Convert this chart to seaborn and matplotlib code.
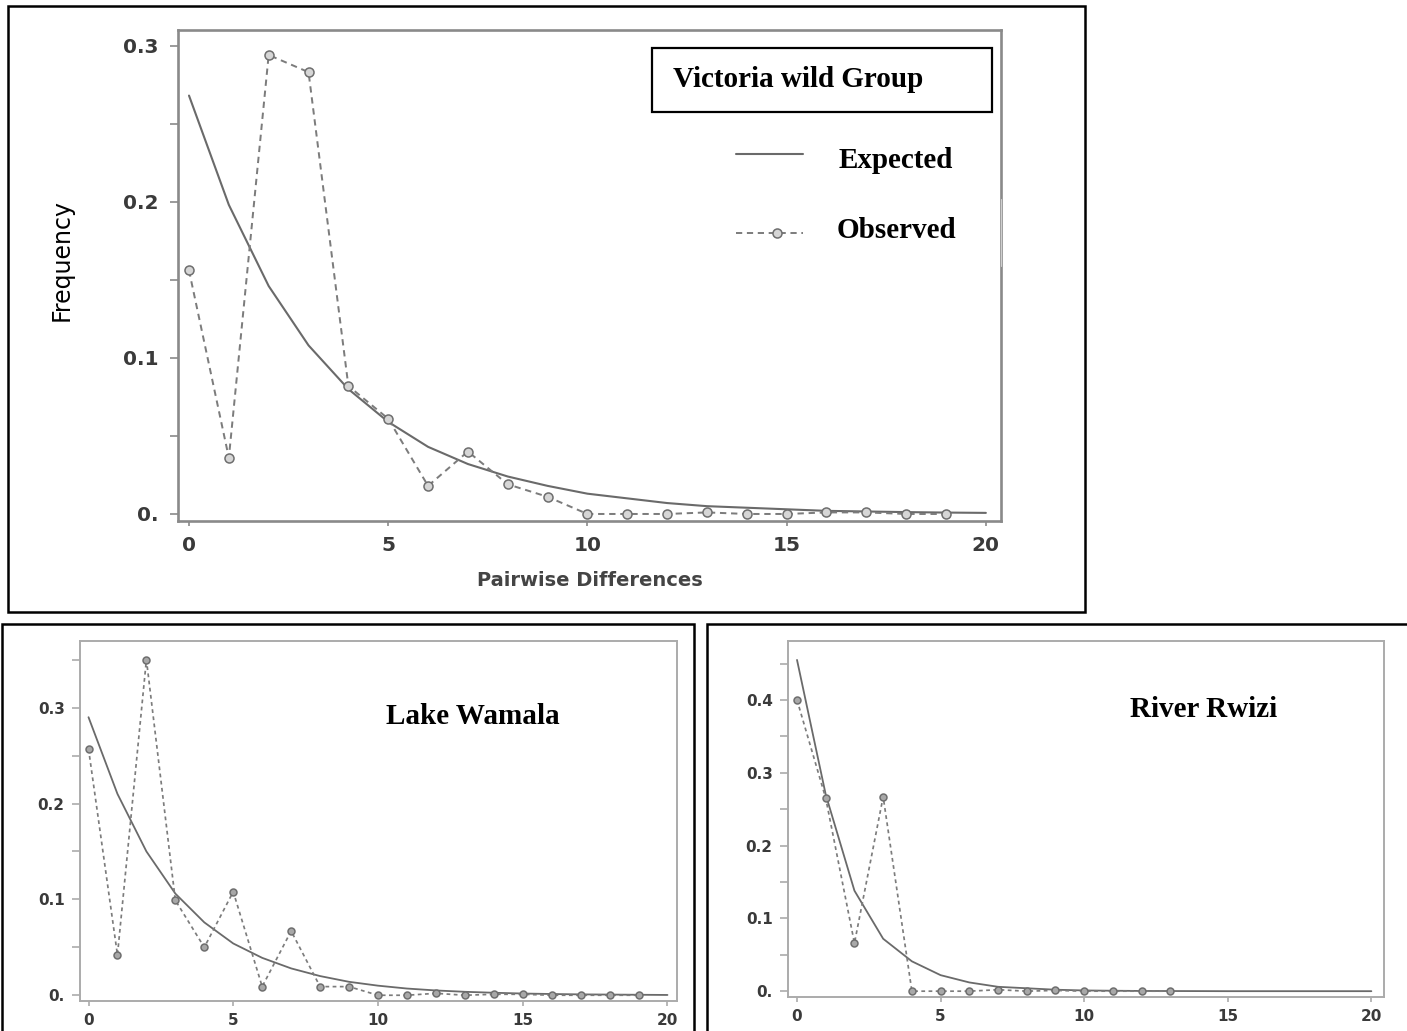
import matplotlib
matplotlib.use("Agg")
import matplotlib.pyplot as plt
import seaborn as sns
from matplotlib.patches import Rectangle
from matplotlib.lines import Line2D
from matplotlib.ticker import FixedLocator

# ---- mismatch distributions (frequency of pairwise differences) ----
diff_expected = list(range(21))

victoria_diff_obs = list(range(20))
victoria_observed = [0.156, 0.036, 0.294, 0.283, 0.082, 0.061, 0.018, 0.040, 0.019, 0.011,
                     0.000, 0.000, 0.000, 0.001, 0.000, 0.000, 0.001, 0.001, 0.000, 0.000]
victoria_expected = [0.268, 0.198, 0.146, 0.108, 0.080, 0.059, 0.043, 0.032, 0.024, 0.018,
                     0.013, 0.010, 0.007, 0.005, 0.004, 0.003, 0.002, 0.0016, 0.0012, 0.0009, 0.0007]

wamala_diff_obs = list(range(20))
wamala_observed = [0.257, 0.042, 0.350, 0.099, 0.050, 0.108, 0.009, 0.067, 0.009, 0.009,
                   0.000, 0.000, 0.002, 0.000, 0.001, 0.001, 0.000, 0.000, 0.000, 0.000]
wamala_expected = [0.290, 0.210, 0.150, 0.106, 0.076, 0.054, 0.039, 0.028, 0.020, 0.014,
                   0.010, 0.007, 0.005, 0.0036, 0.0026, 0.0018, 0.0013, 0.0009, 0.0007, 0.0005, 0.0003]

rwizi_diff_obs = list(range(14))
rwizi_observed = [0.400, 0.265, 0.066, 0.267, 0.000, 0.000, 0.000, 0.002, 0.000, 0.001,
                  0.000, 0.000, 0.000, 0.000]
rwizi_expected = [0.455, 0.270, 0.138, 0.072, 0.041, 0.022, 0.012, 0.006, 0.004, 0.002,
                  0.001, 0.0006, 0.0003, 0.0002, 0.0001, 0.0, 0.0, 0.0, 0.0, 0.0, 0.0]

x_ticks = [0, 5, 10, 15, 20]
x_tick_labels = ["0", "5", "10", "15", "20"]

W, H = 1407, 1031
sns.set_theme(style="white")
plt.rcParams["font.family"] = ["DejaVu Sans"]

fig = plt.figure(figsize=(W / 100, H / 100), dpi=100)
fig.patch.set_facecolor("white")

EXP_COLOR = "#6a6a6a"
OBS_COLOR = "#7c7c7c"
TICK_TEXT = "#3a3a3a"
SERIF = "Liberation Serif"


def rect(l, t, r, b):
    return [l / W, 1 - b / H, (r - l) / W, (b - t) / H]


def fx(x):
    return x / W


def fy(y):
    return 1 - y / H


def draw_panel(ax, exp_y, obs_x, obs_y, xlim, ylim, yticks, ylabels, yminor,
               label_size, spine_color, spine_lw, msize, mface, lw, dash,
               ypad, xpad, tick_len):
    sns.lineplot(x=diff_expected, y=exp_y, ax=ax, color=EXP_COLOR, lw=lw,
                 estimator=None, sort=False)
    sns.lineplot(x=obs_x, y=obs_y, ax=ax, color=OBS_COLOR, lw=lw * 0.95,
                 marker="o", markersize=msize, markerfacecolor=mface,
                 markeredgecolor="#6e6e6e", markeredgewidth=1.1,
                 estimator=None, sort=False)
    ax.lines[-1].set_dashes(dash)

    ax.set_xlim(*xlim)
    ax.set_ylim(*ylim)
    ax.set_xticks(x_ticks)
    ax.set_xticklabels(x_tick_labels, fontweight="bold")
    ax.set_yticks(yticks)
    ax.set_yticklabels(ylabels, fontweight="bold")
    ax.yaxis.set_minor_locator(FixedLocator(yminor))
    ax.set_xlabel("")
    ax.set_ylabel("")
    ax.tick_params(axis="both", which="both", direction="out", color=spine_color,
                   width=1.2, labelcolor=TICK_TEXT, labelsize=label_size,
                   bottom=True, left=True)
    ax.tick_params(axis="y", which="both", length=tick_len, pad=ypad)
    ax.tick_params(axis="x", which="major", length=tick_len * 0.6, pad=xpad)
    for s in ax.spines.values():
        s.set_visible(True)
        s.set_color(spine_color)
        s.set_linewidth(spine_lw)
    ax.grid(False)


# ---- top panel: Victoria wild group ----
ax_top = fig.add_axes(rect(178, 30, 1001, 521))
draw_panel(ax_top, victoria_expected, victoria_diff_obs, victoria_observed,
           xlim=(-0.276, 20.38), ylim=(-0.0045, 0.310),
           yticks=[0.0, 0.1, 0.2, 0.3], ylabels=["0.", "0.1", "0.2", "0.3"],
           yminor=[0.05, 0.15, 0.25], label_size=14.5, spine_color="#8a8a8a",
           spine_lw=1.9, msize=6.5, mface="#d6d6d6", lw=1.5, dash=(3.2, 2.4),
           ypad=8, xpad=7, tick_len=6)
ax_top.set_xlabel("Pairwise Differences", fontsize=14, fontweight="bold",
                  color="#444444", labelpad=12)

# ---- bottom left: Lake Wamala ----
ax_bl = fig.add_axes(rect(80, 641, 677, 1001))
draw_panel(ax_bl, wamala_expected, wamala_diff_obs, wamala_observed,
           xlim=(-0.294, 20.33), ylim=(-0.006, 0.3695),
           yticks=[0.0, 0.1, 0.2, 0.3], ylabels=["0.", "0.1", "0.2", "0.3"],
           yminor=[0.05, 0.15, 0.25, 0.35], label_size=11, spine_color="#ababab",
           spine_lw=1.4, msize=5, mface="#a8a8a8", lw=1.3, dash=(2.2, 2.0),
           ypad=5, xpad=5, tick_len=6)

# ---- bottom right: River Rwizi ----
ax_br = fig.add_axes(rect(788, 641, 1384, 997))
draw_panel(ax_br, rwizi_expected, rwizi_diff_obs, rwizi_observed,
           xlim=(-0.314, 20.44), ylim=(-0.008, 0.481),
           yticks=[0.0, 0.1, 0.2, 0.3, 0.4], ylabels=["0.", "0.1", "0.2", "0.3", "0.4"],
           yminor=[0.05, 0.15, 0.25, 0.35, 0.45], label_size=11, spine_color="#ababab",
           spine_lw=1.4, msize=5, mface="#a8a8a8", lw=1.3, dash=(2.2, 2.0),
           ypad=5, xpad=5, tick_len=6)

# ---- y-axis title ----
fig.text(fx(62), fy(260), "Frequency", rotation=90, ha="center", va="center",
         fontsize=17, color="black")

# ---- panel frames ----
for (l, t, r, b) in [(7.5, 5.7, 1084.5, 612), (1.7, 624, 694.3, 1040), (706.7, 624, 1415, 1040)]:
    fig.add_artist(Rectangle((fx(l), fy(b)), (r - l) / W, (b - t) / H,
                             transform=fig.transFigure, fill=False,
                             edgecolor="black", lw=1.8, zorder=5))

# ---- key for the top panel ----
fig.add_artist(Rectangle((fx(652), fy(112)), (992 - 652) / W, (112 - 48) / H,
                         transform=fig.transFigure, facecolor="white",
                         edgecolor="black", lw=1.6, zorder=5))
fig.add_artist(Rectangle((fx(830), fy(266)), (1000 - 830) / W, (266 - 199) / H,
                         transform=fig.transFigure, facecolor="white",
                         edgecolor="none", zorder=5))
fig.add_artist(Line2D([fx(1001), fx(1001)], [fy(199), fy(266)], color="#cfcfcf",
                      lw=0.8, transform=fig.transFigure, zorder=5))
fig.text(fx(673), fy(86.7), "Victoria wild Group", fontsize=21, fontweight="bold",
         family=SERIF, color="black", ha="left", va="baseline", zorder=6)

fig.add_artist(Line2D([fx(736), fx(803)], [fy(154), fy(154)], color=EXP_COLOR,
                      lw=1.5, transform=fig.transFigure, zorder=6))
fig.add_artist(Line2D([fx(736), fx(803)], [fy(233), fy(233)], color=OBS_COLOR,
                      lw=1.4, dashes=(3.2, 2.4), transform=fig.transFigure, zorder=6))
fig.add_artist(Line2D([fx(777)], [fy(233)], marker="o", markersize=6.5,
                      markerfacecolor="#d6d6d6", markeredgecolor="#6e6e6e",
                      markeredgewidth=1.1, linestyle="none",
                      transform=fig.transFigure, zorder=7))
fig.text(fx(839), fy(167.7), "Expected", fontsize=21, fontweight="bold",
         family=SERIF, color="black", ha="left", va="baseline", zorder=6)
fig.text(fx(836.7), fy(237.7), "Observed", fontsize=21, fontweight="bold",
         family=SERIF, color="black", ha="left", va="baseline", zorder=6)

# ---- bottom panel titles ----
fig.text(fx(386), fy(724), "Lake Wamala", fontsize=21, fontweight="bold",
         family=SERIF, color="black", ha="left", va="baseline", zorder=6)
fig.text(fx(1130), fy(717.3), "River Rwizi", fontsize=21, fontweight="bold",
         family=SERIF, color="black", ha="left", va="baseline", zorder=6)

fig.savefig("out.png", dpi=100, facecolor="white")
